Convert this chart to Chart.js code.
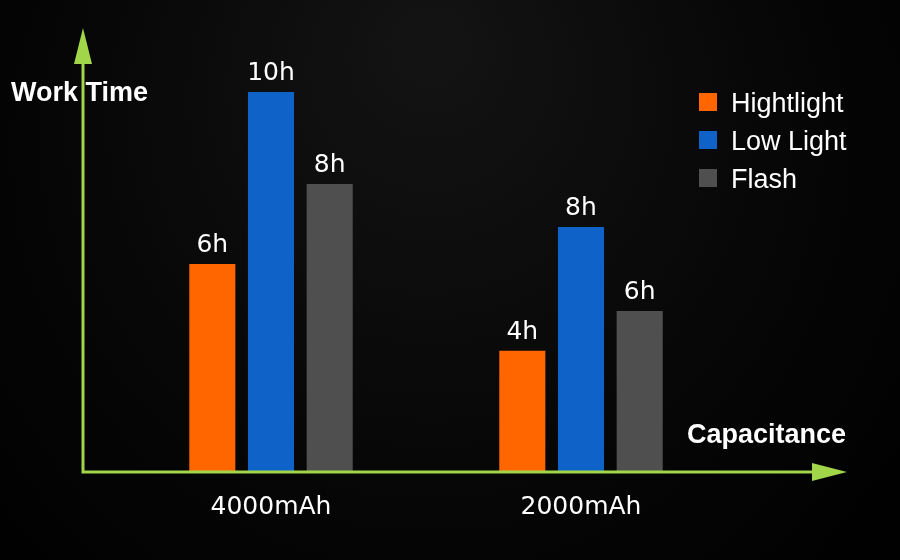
<!DOCTYPE html>
<html>
<head>
<meta charset="utf-8">
<script src="https://cdn.jsdelivr.net/npm/chart.js@4/dist/chart.umd.min.js"></script>
<style>
  html, body { margin: 0; padding: 0; background: #000; }
  canvas { display: block; }
</style>
</head>
<body>
<canvas id="c" width="900" height="560"></canvas>
<script>
// ---- data ----
const categories = ['4000mAh', '2000mAh'];
const seriesNames = ['Hightlight', 'Low Light', 'Flash'];
// bar heights as drawn in the picture (hours scale, 10h bar = 10)
const hightlightValues = [5.46, 3.17];
const lowLightValues = [10.0, 6.44];
const flashValues = [7.57, 4.22];
// labels printed above the bars
const hightlightLabels = ['6h', '4h'];
const lowLightLabels = ['10h', '8h'];
const flashLabels = ['8h', '6h'];
const yAxisTitle = 'Work Time';
const xAxisTitle = 'Capacitance';

const colors = ['#ff6600', '#0e62c8', '#4f4f4f'];
const axisColor = '#a2d64a';

const bgPlugin = {
  id: 'bg',
  beforeDraw(chart) {
    const ctx = chart.ctx;
    const g = ctx.createRadialGradient(430, 40, 20, 430, 200, 600);
    g.addColorStop(0, '#131313');
    g.addColorStop(0.6, '#060606');
    g.addColorStop(1, '#000000');
    ctx.save();
    ctx.fillStyle = g;
    ctx.fillRect(0, 0, chart.width, chart.height);
    ctx.restore();
  }
};

const decorPlugin = {
  id: 'decor',
  afterDatasetsDraw(chart) {
    const ctx = chart.ctx;
    const xs = chart.scales.x;
    const ys = chart.scales.y;
    const ax = 83, ay = ys.getPixelForValue(0) + 1;
    ctx.save();
    // axes
    ctx.strokeStyle = axisColor;
    ctx.fillStyle = axisColor;
    ctx.lineWidth = 3;
    ctx.beginPath();
    ctx.moveTo(ax, 60);
    ctx.lineTo(ax, ay);
    ctx.lineTo(815, ay);
    ctx.stroke();
    // y arrow
    ctx.beginPath();
    ctx.moveTo(ax, 28);
    ctx.lineTo(ax + 9, 64);
    ctx.lineTo(ax - 9, 64);
    ctx.closePath();
    ctx.fill();
    // x arrow
    ctx.beginPath();
    ctx.moveTo(847, ay);
    ctx.lineTo(812, ay - 9);
    ctx.lineTo(812, ay + 9);
    ctx.closePath();
    ctx.fill();

    // value labels
    const labelSets = [hightlightLabels, lowLightLabels, flashLabels];
    ctx.fillStyle = '#ffffff';
    ctx.font = '25px "DejaVu Sans"';
    ctx.textAlign = 'center';
    ctx.textBaseline = 'alphabetic';
    chart.data.datasets.forEach((ds, i) => {
      const meta = chart.getDatasetMeta(i);
      meta.data.forEach((bar, j) => {
        ctx.fillText(labelSets[i][j], bar.x, bar.y - 12);
      });
    });
    // category labels
    categories.forEach((c, j) => {
      ctx.fillText(c, xs.getPixelForValue(j), 514);
    });

    // axis titles
    ctx.textAlign = 'left';
    ctx.font = 'bold 27px "Liberation Sans", Arial, sans-serif';
    ctx.fillText(yAxisTitle, 11, 101);
    ctx.fillText(xAxisTitle, 687, 443);

    // legend
    ctx.font = '27px "Liberation Sans", Arial, sans-serif';
    chart.data.datasets.forEach((ds, i) => {
      const top = 93 + i * 38;
      ctx.fillStyle = ds.backgroundColor;
      ctx.fillRect(699, top, 18, 18);
      ctx.fillStyle = '#ffffff';
      ctx.fillText(ds.label, 731, top + 19);
    });
    ctx.restore();
  }
};

new Chart(document.getElementById('c'), {
  type: 'bar',
  data: {
    labels: categories,
    datasets: [
      { label: seriesNames[0], data: hightlightValues, backgroundColor: colors[0] },
      { label: seriesNames[1], data: lowLightValues, backgroundColor: colors[1] },
      { label: seriesNames[2], data: flashValues, backgroundColor: colors[2] }
    ]
  },
  options: {
    responsive: false,
    devicePixelRatio: 1,
    animation: false,
    layout: { padding: { left: 116, right: 164, top: 60, bottom: 89 } },
    datasets: { bar: { barPercentage: 0.785, categoryPercentage: 0.568, borderWidth: 0 } },
    scales: {
      x: { display: false },
      y: { display: false, min: 0, max: 10.844 }
    },
    plugins: {
      legend: { display: false },
      tooltip: { enabled: false }
    }
  },
  plugins: [bgPlugin, decorPlugin]
});
</script>
</body>
</html>
